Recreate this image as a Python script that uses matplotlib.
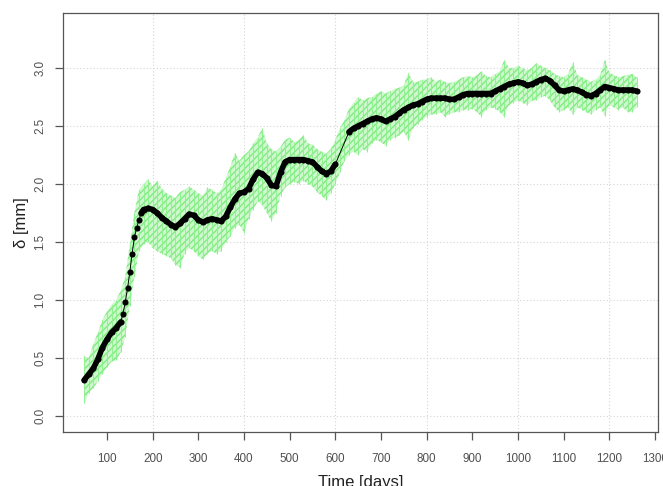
import matplotlib
matplotlib.use("Agg")
import matplotlib.pyplot as plt

plt.rcParams['font.family'] = ['Liberation Sans', 'DejaVu Sans']
plt.rcParams['hatch.linewidth'] = 1.0

# ---- smoothed displacement (black) ----
smooth_days = [50, 60, 70, 80, 90, 100, 110, 120, 130, 135, 140, 145, 150, 155, 160,
               165, 170, 175, 180, 190, 200, 210, 220, 230, 240, 250, 260, 270, 280,
               290, 300, 310, 320, 330, 340, 350, 360, 370, 380, 390, 400, 410, 420,
               430, 440, 450, 460, 470, 480, 490, 500, 510, 520, 530, 540, 550, 560,
               570, 580, 590, 600,
               630, 640, 650, 660, 670, 680, 690, 700, 710, 720, 730, 740, 750, 760,
               770, 780, 790, 800, 810, 820, 830, 840, 850, 860, 870, 880, 890, 900,
               910, 920, 930, 940, 950, 960, 970, 980, 990, 1000, 1010, 1020, 1030,
               1040, 1050, 1060, 1070, 1080, 1090, 1100, 1110, 1120, 1130, 1140, 1150,
               1160, 1170, 1180, 1190, 1200, 1210, 1220, 1230, 1240, 1250, 1260]
smooth_vals = [0.31, 0.36, 0.41, 0.49, 0.59, 0.66, 0.72, 0.76, 0.81, 0.88, 0.98, 1.10, 1.24, 1.40, 1.54,
               1.62, 1.69, 1.75, 1.78, 1.79, 1.78, 1.75, 1.71, 1.68, 1.65, 1.63, 1.66, 1.70, 1.74,
               1.73, 1.69, 1.67, 1.69, 1.70, 1.69, 1.68, 1.72, 1.80, 1.87, 1.92, 1.93, 1.96, 2.04,
               2.10, 2.09, 2.05, 1.99, 1.98, 2.10, 2.19, 2.21, 2.21, 2.21, 2.21, 2.20, 2.19, 2.15,
               2.11, 2.09, 2.11, 2.17,
               2.45, 2.48, 2.50, 2.52, 2.54, 2.56, 2.57, 2.56, 2.54, 2.56, 2.58, 2.61, 2.64, 2.66,
               2.68, 2.69, 2.71, 2.73, 2.74, 2.74, 2.74, 2.74, 2.73, 2.73, 2.75, 2.77, 2.78, 2.78,
               2.78, 2.78, 2.78, 2.78, 2.80, 2.82, 2.84, 2.86, 2.87, 2.88, 2.87, 2.85, 2.86,
               2.88, 2.90, 2.91, 2.89, 2.85, 2.81, 2.80, 2.81, 2.82, 2.81, 2.79, 2.77,
               2.76, 2.78, 2.81, 2.84, 2.83, 2.82, 2.81, 2.81, 2.81, 2.81, 2.80]

# ---- raw measurement band (green): upper / lower extent every 10 days ----
raw_days = list(range(50, 1261, 10))
raw_hi = [0.52, 0.50, 0.62, 0.72, 0.83, 0.90, 0.96, 1.00, 1.08, 1.20,
          1.48, 1.75, 1.95, 2.00, 2.04, 1.98, 2.03, 1.96, 1.92, 1.90,
          1.88, 1.93, 1.95, 1.98, 1.95, 1.92, 1.90, 1.97, 1.95, 1.92,
          1.95, 2.05, 2.15, 2.27, 2.20, 2.25, 2.28, 2.35, 2.40, 2.48,
          2.35, 2.30, 2.28, 2.32, 2.38, 2.40, 2.36, 2.38, 2.42, 2.35,
          2.34, 2.30, 2.28, 2.26, 2.30, 2.38, 2.48, 2.55, 2.65, 2.70,
          2.75, 2.72, 2.74, 2.75, 2.78, 2.80, 2.78, 2.80, 2.82, 2.83,
          2.85, 2.96, 2.88, 2.88, 2.90, 2.90, 2.92, 2.88, 2.90, 2.88,
          2.87, 2.88, 2.90, 2.92, 2.93, 2.92, 2.94, 2.97, 2.93, 2.92,
          2.95, 2.97, 3.07, 3.00, 3.00, 3.02, 3.00, 2.98, 3.00, 3.04,
          3.02, 3.00, 2.98, 2.95, 2.93, 2.92, 2.95, 3.05, 2.94, 2.92,
          2.90, 2.88, 2.90, 2.94, 3.07, 2.96, 2.94, 2.92, 2.93, 2.94,
          2.95, 2.92]
raw_lo = [0.11, 0.20, 0.24, 0.30, 0.36, 0.42, 0.47, 0.48, 0.55, 0.68,
          0.95, 1.20, 1.42, 1.48, 1.50, 1.45, 1.42, 1.40, 1.38, 1.36,
          1.30, 1.28, 1.40, 1.45, 1.42, 1.38, 1.35, 1.40, 1.42, 1.40,
          1.42, 1.50, 1.55, 1.62, 1.65, 1.58, 1.70, 1.78, 1.85, 1.82,
          1.75, 1.68, 1.75, 1.90, 1.97, 2.00, 2.02, 2.00, 2.03, 2.00,
          1.98, 1.93, 1.90, 1.86, 1.92, 2.00, 2.10, 2.20, 2.25, 2.28,
          2.25, 2.30, 2.28, 2.35, 2.38, 2.36, 2.33, 2.38, 2.40, 2.42,
          2.45, 2.38, 2.48, 2.52, 2.55, 2.58, 2.60, 2.60, 2.62, 2.58,
          2.60, 2.62, 2.62, 2.64, 2.64, 2.65, 2.62, 2.58, 2.64, 2.66,
          2.65, 2.62, 2.58, 2.68, 2.70, 2.72, 2.70, 2.68, 2.72, 2.72,
          2.75, 2.76, 2.72, 2.66, 2.62, 2.64, 2.66, 2.60, 2.66, 2.64,
          2.62, 2.60, 2.64, 2.66, 2.59, 2.68, 2.66, 2.64, 2.66, 2.62,
          2.62, 2.66]

x_ticks = list(range(100, 1301, 100))
y_ticks = [0.0, 0.5, 1.0, 1.5, 2.0, 2.5, 3.0]
x_grid = [200, 400, 600, 800, 1000, 1200]

fig = plt.figure(figsize=(6.63, 4.86), dpi=100)
ax = fig.add_axes([63 / 663, 1 - 432 / 486, (658 - 63) / 663, (432 - 13) / 486])

# grid
for g in x_grid:
    ax.axvline(g, color='#d4d4d4', lw=0.8, ls=(0, (1, 2)), zorder=0)
for g in y_ticks:
    ax.axhline(g, color='#d4d4d4', lw=0.8, ls=(0, (1, 2)), zorder=0)

# green raw band
ax.fill_between(raw_days, raw_lo, raw_hi, facecolor='#cff8cf', edgecolor='#7fec7f',
                hatch='/////', linewidth=0, zorder=1)
ax.vlines(raw_days, raw_lo, raw_hi, colors='#90f090', lw=0.7, zorder=1)

# black smoothed: thin connecting line, dots, and a heavy stroke where dots are dense
ax.plot(smooth_days, smooth_vals, color='black', lw=0.7, zorder=3)
ax.plot(smooth_days, smooth_vals, ls='none', marker='o', markersize=4.4,
        markeredgewidth=0, color='black', zorder=4)
i_a = smooth_days.index(130)
i_b = smooth_days.index(175)
i_c = smooth_days.index(600)
i_d = smooth_days.index(630)
ax.plot(smooth_days[:i_a + 1], smooth_vals[:i_a + 1], color='black', lw=4.0,
        solid_capstyle='round', zorder=4)
ax.plot(smooth_days[i_b:i_c + 1], smooth_vals[i_b:i_c + 1], color='black', lw=4.0,
        solid_capstyle='round', zorder=4)
ax.plot(smooth_days[i_d:], smooth_vals[i_d:], color='black', lw=4.0,
        solid_capstyle='round', zorder=4)

ax.set_xlim(3.7, 1306.6)
ax.set_ylim(-0.138, 3.474)
ax.set_xticks(x_ticks)
ax.set_xticklabels([str(t) for t in x_ticks])
ax.set_yticks(y_ticks)
ax.set_yticklabels([f"{t:.1f}" for t in y_ticks], rotation=90, va='center')
ax.tick_params(direction='out', length=6, width=0.9, color='#555555',
               labelsize=8.4, labelcolor='#505050', pad=9)
ax.tick_params(axis='y', pad=6)
for s in ax.spines.values():
    s.set_color('#555555')
    s.set_linewidth(0.9)

ax.set_xlabel('Time [days]', fontsize=12, color='#222222', labelpad=7)
ax.set_ylabel('δ [mm]', fontsize=12, color='#222222', labelpad=4)

fig.savefig('out.png', dpi=100)
